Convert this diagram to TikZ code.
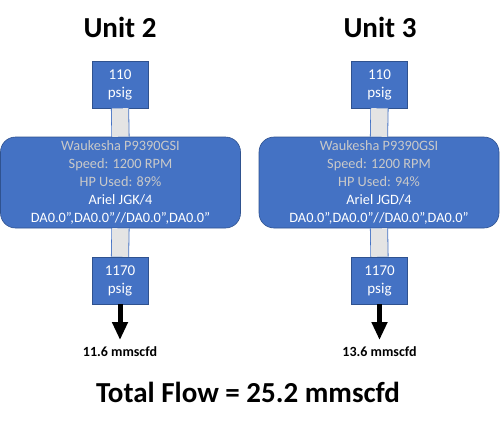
\documentclass[tikz,border=0pt]{standalone}
\usepackage{fontspec}
\setmainfont{Carlito}
\usetikzlibrary{arrows.meta}
\definecolor{boxblue}{HTML}{4472C4}
\definecolor{boxedge}{HTML}{2F528F}
\definecolor{pipegray}{HTML}{E4E4E4}
\definecolor{pipeedge}{HTML}{4472C4}
\definecolor{txtgray}{HTML}{C9C9C9}
\begin{document}
\begin{tikzpicture}[x=1pt,y=-1pt,
  valbox/.style={draw=boxedge, line width=0.6pt, fill=boxblue, text=white,
    minimum width=56pt, minimum height=47pt, inner sep=0pt, align=center,
    font=\fontsize{15}{18}\selectfont},
  engbox/.style={draw=boxedge, line width=0.6pt, fill=boxblue, rounded corners=15pt,
    minimum width=240pt, minimum height=91pt, inner sep=0pt, align=center, text=white,
    font=\fontsize{14.3}{17.8}\selectfont},
  pipe/.style={draw=pipeedge, line width=0.8pt, double=pipegray, double distance=16.5pt},
  flow/.style={line width=5pt, -{Triangle[width=15pt,length=18pt]}},
  title/.style={font=\fontsize{29}{34}\selectfont\bfseries},
  flowlabel/.style={font=\fontsize{14}{16}\selectfont\bfseries}]
\useasboundingbox (0,0) rectangle (500,426);

% Unit 2
\node[title] (t2) at (120,27) {Unit 2};
\node[valbox] (in2) at (120,84.5) {110\\psig};
\node[engbox] (m2) at (120.5,182.5) {\textcolor{txtgray}{Waukesha P9390GSI}\\
  \textcolor{txtgray}{Speed: 1200 RPM}\\
  \textcolor{txtgray}{HP Used: 89\%}\\
  Ariel JGK/4\\
  DA0.0”,DA0.0”//DA0.0”,DA0.0”};
\node[valbox] (out2) at (120,280.5) {1170\\psig};
\draw[pipe] (in2.south) -- (m2.north);
\draw[pipe] (m2.south) -- (out2.north);
\coordinate (e2) at (120,340);
\draw[flow] (out2.south) -- (e2);
\node[flowlabel] (f2) at (120,352) {11.6 mmscfd};

% Unit 3
\node[title] (t3) at (380,27) {Unit 3};
\node[valbox] (in3) at (379.5,84.5) {110\\psig};
\node[engbox] (m3) at (379,182.5) {\textcolor{txtgray}{Waukesha P9390GSI}\\
  \textcolor{txtgray}{Speed: 1200 RPM}\\
  \textcolor{txtgray}{HP Used: 94\%}\\
  Ariel JGD/4\\
  DA0.0”,DA0.0”//DA0.0”,DA0.0”};
\node[valbox] (out3) at (379.5,280.5) {1170\\psig};
\draw[pipe] (in3.south) -- (m3.north);
\draw[pipe] (m3.south) -- (out3.north);
\coordinate (e3) at (379.5,340);
\draw[flow] (out3.south) -- (e3);
\node[flowlabel] (f3) at (379.5,352) {13.6 mmscfd};

% total
\node[title] (tot) at (248,392) {Total Flow = 25.2 mmscfd};
\end{tikzpicture}
\end{document}
